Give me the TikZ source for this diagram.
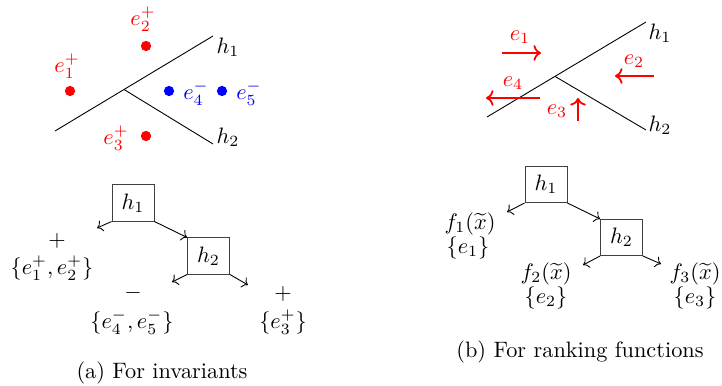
\documentclass[tikz,border=0pt]{standalone}
\usetikzlibrary{arrows.meta}
\begin{document}
\begin{tikzpicture}[x=0.4484pt,y=-0.4484pt,
  dotred/.style={circle,fill=red,inner sep=0pt,minimum size=4.6pt},
  dotblue/.style={circle,fill=blue,inner sep=0pt,minimum size=4.6pt},
  boxnode/.style={draw=black!75,minimum width=18.8pt,minimum height=16.2pt,inner sep=1pt},
  treearrow/.style={->},
  ex/.style={red,thick,->},
  lbl/.style={inner sep=0pt}]
\useasboundingbox (0,0) rectangle (722,386);
% ---------- (a) top ----------
\coordinate (a1s) at (55,131);
\coordinate (a1e) at (213,36);
\coordinate (aj) at (124,89.5);
\coordinate (a2e) at (213,144);
\draw (a1s) -- (a1e);
\draw (aj) -- (a2e);
\node[lbl] (ah1) at (228,47) {$h_1$};
\node[lbl] (ah2) at (228,137) {$h_2$};
\node[dotred] (d1) at (70,91) {};
\node[dotred] (d2) at (146,46) {};
\node[dotred] (d3) at (146,136) {};
\node[dotblue] (d4) at (169,91) {};
\node[dotblue] (d5) at (222,91) {};
\node[lbl,red] (l1) at (67,66) {$e_1^+$};
\node[lbl,red] (l2) at (143,19) {$e_2^+$};
\node[lbl,red] (l3) at (116,138) {$e_3^+$};
\node[lbl,blue] (l4) at (196,93) {$e_4^-$};
\node[lbl,blue] (l5) at (249,93) {$e_5^-$};
% ---------- (a) tree ----------
\node[boxnode] (t1) at (133,203) {$h_1$};
\node[boxnode] (t2) at (208.5,256) {$h_2$};
\coordinate (c1) at (97,228);
\coordinate (c3) at (172,282);
\coordinate (c4) at (248,285);
\draw[treearrow] (t1.south west) -- (c1);
\draw[treearrow] (t1.south east) -- (t2.north west);
\draw[treearrow] (t2.south west) -- (c3);
\draw[treearrow] (t2.south east) -- (c4);
\node[lbl] (p1) at (57,241) {$+$};
\node[lbl] (s1) at (52,268) {$\{e_1^+,e_2^+\}$};
\node[lbl] (p2) at (133,293) {$-$};
\node[lbl] (s2) at (132,322) {$\{e_4^-,e_5^-\}$};
\node[lbl] (p3) at (283,294) {$+$};
\node[lbl] (s3) at (283,322) {$\{e_3^+\}$};
\node[lbl] (capa) at (162,373) {(a) For invariants};
% ---------- (b) top ----------
\coordinate (b1s) at (487,117);
\coordinate (b1e) at (646,22);
\coordinate (bj) at (555,76.4);
\coordinate (b2e) at (646,130);
\draw (b1s) -- (b1e);
\draw (bj) -- (b2e);
\node[lbl] (bh1) at (660,33) {$h_1$};
\node[lbl] (bh2) at (660,125) {$h_2$};
\coordinate (e1s) at (502,53);  \coordinate (e1e) at (541,53);
\coordinate (e2s) at (654,76);  \coordinate (e2e) at (615,76);
\coordinate (e4s) at (540,98);  \coordinate (e4e) at (486,98);
\coordinate (e3s) at (578,121); \coordinate (e3e) at (578,98);
\draw[ex] (e1s) -- (e1e);
\draw[ex] (e2s) -- (e2e);
\draw[ex] (e4s) -- (e4e);
\draw[ex] (e3s) -- (e3e);
\node[lbl,red] (be1) at (520,37) {$e_1$};
\node[lbl,red] (be2) at (634,61) {$e_2$};
\node[lbl,red] (be4) at (513,83) {$e_4$};
\node[lbl,red] (be3) at (557,111) {$e_3$};
% ---------- (b) tree ----------
\node[boxnode] (u1) at (546,184.5) {$h_1$};
\node[boxnode] (u2) at (621.5,237.5) {$h_2$};
\coordinate (g1) at (507,212);
\coordinate (g3) at (583,265);
\coordinate (g4) at (661,264);
\draw[treearrow] (u1.south west) -- (g1);
\draw[treearrow] (u1.south east) -- (u2.north west);
\draw[treearrow] (u2.south west) -- (g3);
\draw[treearrow] (u2.south east) -- (g4);
\node[lbl] (f1) at (470,224) {$f_1(\widetilde{x})$};
\node[lbl] (r1) at (468,248) {$\{e_1\}$};
\node[lbl] (f2) at (546,274) {$f_2(\widetilde{x})$};
\node[lbl] (r2) at (546,298) {$\{e_2\}$};
\node[lbl] (f3) at (695,274) {$f_3(\widetilde{x})$};
\node[lbl] (r3) at (695,298) {$\{e_3\}$};
\node[lbl] (capb) at (580,352) {(b) For ranking functions};
\end{tikzpicture}
\end{document}
